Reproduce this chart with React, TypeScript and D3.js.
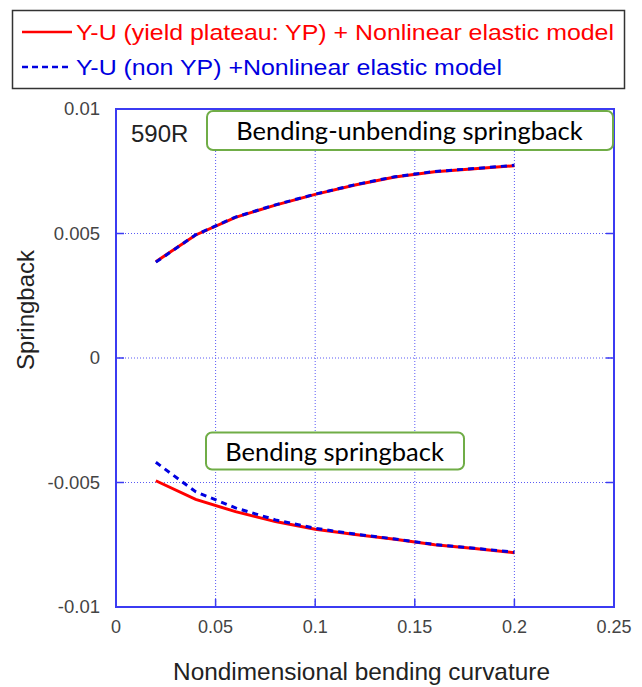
import React from "react";
import * as d3 from "d3";

const curvature = [0.02, 0.04, 0.06, 0.08, 0.1, 0.12, 0.14, 0.16, 0.18, 0.2];
const unbendYP = [0.00387, 0.00494, 0.00565, 0.00614, 0.00657, 0.00695, 0.00727, 0.00748, 0.0076, 0.00772];
const unbendNonYP = [0.00385, 0.00495, 0.00566, 0.00615, 0.00658, 0.00696, 0.00728, 0.00749, 0.00761, 0.00774];
const bendYP = [-0.00493, -0.00568, -0.00617, -0.00657, -0.00688, -0.00709, -0.00728, -0.0075, -0.00765, -0.00782];
const bendNonYP = [-0.00419, -0.00537, -0.00602, -0.0065, -0.00684, -0.00707, -0.00727, -0.00749, -0.00764, -0.0078];

const xTicks = [0, 0.05, 0.1, 0.15, 0.2, 0.25];
const xTickLabels = ["0", "0.05", "0.1", "0.15", "0.2", "0.25"];
const yTicks = [0.01, 0.005, 0, -0.005, -0.01];
const yTickLabels = ["0.01", "0.005", "0", "-0.005", "-0.01"];

const legendLabels = [
  "Y-U (yield plateau: YP) + Nonlinear elastic model",
  "Y-U (non YP) +Nonlinear elastic model",
];

const W = 642;
const H = 687;
const L = 116, R = 614, T = 109, B = 607;

export default function App() {
  const x = d3.scaleLinear().domain([0, 0.25]).range([L, R]);
  const y = d3.scaleLinear().domain([-0.01, 0.01]).range([B, T]);
  const line = (vals: number[]) =>
    d3.line<number>().x((_, i) => x(curvature[i])).y((v) => y(v))(vals) || "";
  const frame = "#3b3bf2";
  const grid = "#5a5af5";
  const red = "#ff0000";
  const blue = "#0000e0";
  const tickCol = "#444";
  const font = "'Liberation Sans', Arial, sans-serif";
  const boxFont = "Lato, 'Open Sans', sans-serif";

  return (
    <svg width={W} height={H} style={{ position: "absolute", left: 0, top: 0, background: "#fff" }}>
      <rect x={0} y={0} width={W} height={H} fill="#fff" />
      {/* Legend */}
      <rect x={12.5} y={10.5} width={612} height={78} fill="#fff" stroke="#333" strokeWidth={1.5} />
      <line x1={22} x2={72} y1={32} y2={32} stroke={red} strokeWidth={2.5} />
      <text x={76} y={40} fill={red} fontFamily={font} fontSize={22} textLength={538} lengthAdjust="spacingAndGlyphs">
        {legendLabels[0]}
      </text>
      <line x1={22} x2={72} y1={67} y2={67} stroke={blue} strokeWidth={2.5} strokeDasharray="6 4" />
      <text x={76} y={75} fill={blue} fontFamily={font} fontSize={22} textLength={426} lengthAdjust="spacingAndGlyphs">
        {legendLabels[1]}
      </text>

      {/* Grid */}
      {xTicks.slice(1, -1).map((t) => (
        <line key={"gx" + t} x1={x(t)} x2={x(t)} y1={T} y2={B} stroke={grid} strokeWidth={1} strokeDasharray="1 2" />
      ))}
      {yTicks.slice(1, -1).map((t) => (
        <line key={"gy" + t} x1={L} x2={R} y1={y(t)} y2={y(t)} stroke={grid} strokeWidth={1} strokeDasharray="1 2" />
      ))}
      {/* Ticks */}
      {xTicks.map((t) => (
        <g key={"tx" + t}>
          <line x1={x(t)} x2={x(t)} y1={B} y2={B - 8} stroke={frame} strokeWidth={1.5} />
          <line x1={x(t)} x2={x(t)} y1={T} y2={T + 8} stroke={frame} strokeWidth={1.5} />
        </g>
      ))}
      {yTicks.map((t) => (
        <g key={"ty" + t}>
          <line x1={L} x2={L + 8} y1={y(t)} y2={y(t)} stroke={frame} strokeWidth={1.5} />
          <line x1={R} x2={R - 8} y1={y(t)} y2={y(t)} stroke={frame} strokeWidth={1.5} />
        </g>
      ))}

      {/* Data */}
      <path d={line(unbendYP)} fill="none" stroke={red} strokeWidth={3} />
      <path d={line(bendYP)} fill="none" stroke={red} strokeWidth={3} />
      <path d={line(unbendNonYP)} fill="none" stroke={blue} strokeWidth={3} strokeDasharray="6 5" />
      <path d={line(bendNonYP)} fill="none" stroke={blue} strokeWidth={3} strokeDasharray="6 5" />

      {/* Frame */}
      <rect x={L} y={T} width={R - L} height={B - T} fill="none" stroke={frame} strokeWidth={2} />

      {/* Tick labels */}
      {yTicks.map((t, i) => (
        <text key={"yl" + t} x={100} y={y(t) + 6} textAnchor="end" fill={tickCol} fontFamily={font} fontSize={18.5}>
          {yTickLabels[i]}
        </text>
      ))}
      {xTicks.map((t, i) => (
        <text key={"xl" + t} x={x(t)} y={633} textAnchor="middle" fill={tickCol} fontFamily={font} fontSize={18}>
          {xTickLabels[i]}
        </text>
      ))}

      {/* Axis titles */}
      <text x={361.5} y={680} textAnchor="middle" fill="#222" fontFamily={font} fontSize={24.4}>
        Nondimensional bending curvature
      </text>
      <text transform={`translate(34,310) rotate(-90)`} textAnchor="middle" fill="#222" fontFamily={font} fontSize={24}>
        Springback
      </text>

      {/* 590R */}
      <text x={131} y={142} fill="#222" fontFamily={font} fontSize={24}>
        590R
      </text>

      {/* Annotation boxes */}
      <rect x={207} y={111} width={406} height={39} rx={6} fill="#fff" stroke="#70AD47" strokeWidth={2} />
      <text x={409.5} y={139.5} textAnchor="middle" fill="#000" fontFamily={boxFont} fontSize={25.5}>
        Bending-unbending springback
      </text>
      <rect x={206} y={432.5} width={258} height={37} rx={6} fill="#fff" stroke="#70AD47" strokeWidth={2} />
      <text x={334.5} y={460.5} textAnchor="middle" fill="#000" fontFamily={boxFont} fontSize={25.5}>
        Bending springback
      </text>
    </svg>
  );
}
